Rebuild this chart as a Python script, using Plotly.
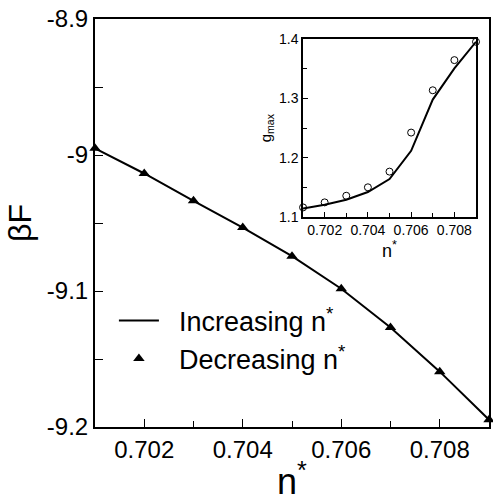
import plotly.graph_objects as go

n_star = [0.701, 0.702, 0.703, 0.704, 0.705, 0.706, 0.707, 0.708, 0.709]
beta_f_increasing = [-8.9951, -9.0136, -9.0337, -9.0534, -9.0744, -9.0983, -9.1268, -9.1593, -9.1946]
beta_f_decreasing = [-8.9951, -9.0136, -9.0337, -9.0534, -9.0744, -9.0983, -9.1268, -9.1593, -9.1946]
gmax_line = [1.114, 1.1206, 1.129, 1.142, 1.164, 1.2117, 1.2983, 1.351, 1.396]
gmax_points = [1.116, 1.1245, 1.1357, 1.150, 1.1765, 1.2425, 1.314, 1.365, 1.396]

main_xticks = [0.702, 0.704, 0.706, 0.708]
main_yticks = [-9.2, -9.1, -9.0, -8.9]
main_yticklabels = ["-9.2", "-9.1", "-9", "-8.9"]
inset_yticks = [1.1, 1.2, 1.3, 1.4]

FONT = "Liberation Sans, Arial, sans-serif"

fig = go.Figure()
fig.add_trace(go.Scatter(x=n_star, y=beta_f_increasing, mode="lines",
                         line=dict(color="black", width=2),
                         name="&nbsp;&nbsp;Increasing n<sup>*</sup>"))
fig.add_trace(go.Scatter(x=n_star, y=beta_f_decreasing, mode="markers",
                         marker=dict(symbol="triangle-up", size=10, color="black"),
                         name="&nbsp;&nbsp;Decreasing n<sup>*</sup>", cliponaxis=False))
fig.add_trace(go.Scatter(x=n_star, y=gmax_line, mode="lines",
                         line=dict(color="black", width=2),
                         xaxis="x2", yaxis="y2", showlegend=False))
fig.add_trace(go.Scatter(x=n_star, y=gmax_points, mode="markers",
                         marker=dict(symbol="circle-open", size=7, color="black",
                                     line=dict(width=1)),
                         xaxis="x2", yaxis="y2", showlegend=False, cliponaxis=False))

axis_common = dict(showgrid=False, zeroline=False, showline=True, mirror=True,
                   linecolor="black", ticks="inside", tickcolor="black")

fig.update_layout(
    width=493, height=502,
    margin=dict(l=95, r=2, t=19, b=73),
    plot_bgcolor="white", paper_bgcolor="white",
    font=dict(family=FONT, color="black"),
    xaxis=dict(**axis_common, range=[0.701, 0.709], tickvals=main_xticks,
               ticktext=[f"{v:.3f}" for v in main_xticks],
               linewidth=2, ticklen=8, tickwidth=1,
               tickfont=dict(size=24),
               minor=dict(ticks="inside", dtick=0.001, tick0=0.701, ticklen=6, tickcolor="black"),
               title=dict(text="n<sup>*</sup>", font=dict(size=36), standoff=12)),
    yaxis=dict(**axis_common, range=[-9.2, -8.9], tickvals=main_yticks,
               ticktext=main_yticklabels,
               linewidth=2, ticklen=8, tickwidth=1,
               tickfont=dict(size=24),
               minor=dict(ticks="inside", dtick=0.05, tick0=-9.2, ticklen=8, tickcolor="black"),
               title=dict(text="βF", font=dict(size=32), standoff=6)),
    xaxis2=dict(**axis_common, domain=[0.528, 0.967], anchor="y2",
                range=[0.701, 0.709], tickvals=main_xticks,
                ticktext=[f"{v:.3f}" for v in main_xticks],
                linewidth=1.5, ticklen=5, tickfont=dict(size=14),
                minor=dict(ticks="inside", dtick=0.001, tick0=0.701, ticklen=4, tickcolor="black"),
                title=dict(text="n<sup>*</sup>", font=dict(size=18), standoff=0)),
    yaxis2=dict(**axis_common, domain=[0.515, 0.95], anchor="x2",
                range=[1.1, 1.4], tickvals=inset_yticks,
                ticktext=[f"{v:.1f}" for v in inset_yticks],
                linewidth=1.5, ticklen=5, tickfont=dict(size=14),
                minor=dict(ticks="inside", dtick=0.05, tick0=1.1, ticklen=4, tickcolor="black"),
                title=dict(text="g<sub>max</sub>", font=dict(size=15), standoff=4)),
    legend=dict(x=0.048, y=0.32, xanchor="left", yanchor="top",
                bgcolor="rgba(0,0,0,0)", font=dict(size=27, family=FONT),
                itemwidth=40, tracegroupgap=6),
    showlegend=True,
)

fig.write_html("out.html")
